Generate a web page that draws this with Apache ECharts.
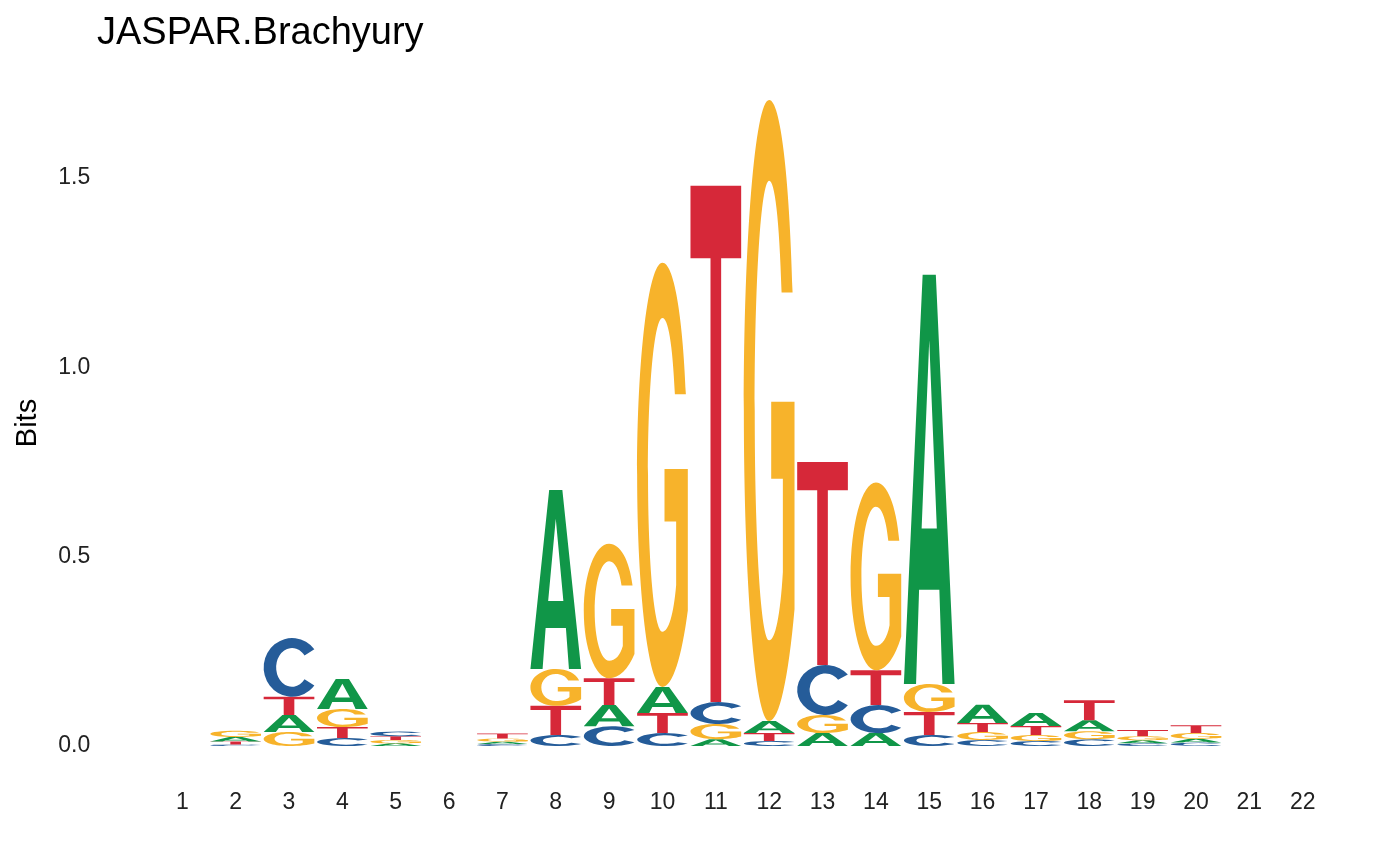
<!DOCTYPE html>
<html>
<head>
<meta charset="utf-8">
<script src="https://cdn.jsdelivr.net/npm/echarts@6/dist/echarts.min.js"></script>
<style>
html,body{margin:0;padding:0;background:#fff;}
#chart{width:1400px;height:866px;}
</style>
</head>
<body>
<div id="chart"></div>
<script>
// ---- data (bits per letter at each position) ----
const positions = [1,2,3,4,5,6,7,8,9,10,11,12,13,14,15,16,17,18,19,20,21,22];
const bitsA = [0,0.012,0.045,0.079,0.007,0,0.006,0.473,0.056,0.069,0.018,0.032,0.034,0.034,1.080,0.048,0.034,0.029,0.008,0.010,0,0];
const bitsC = [0,0.004,0.155,0.021,0.012,0,0.005,0.029,0.052,0.034,0.058,0.013,0.132,0.074,0.029,0.016,0.013,0.018,0.007,0.009,0,0];
const bitsG = [0,0.016,0.037,0.048,0.009,0,0.009,0.097,0.355,1.120,0.040,1.640,0.048,0.496,0.074,0.021,0.016,0.021,0.011,0.015,0,0];
const bitsT = [0,0.008,0.048,0.029,0.010,0,0.013,0.077,0.071,0.053,1.363,0.021,0.536,0.092,0.061,0.024,0.024,0.053,0.016,0.021,0,0];
const letters = ['A','C','G','T'];
const xTickLabels = [1,2,3,4,5,6,7,8,9,10,11,12,13,14,15,16,17,18,19,20,21,22];
const yTickLabels = [0, 0.5, 1.0, 1.5];
const titleText = 'JASPAR.Brachyury';
const yName = 'Bits';

// ---- styles ----
const COLORS = {A:'#109648', C:'#255C99', G:'#F7B32B', T:'#D62839'};
const PATHS = {
  A: 'M0 100 L37 0 L63 0 L100 100 L76 100 L70 77 L30 77 L24 100 Z M35 62 L65 62 L50 16 Z',
  C: 'M89.4 19.2 A50 50 0 1 0 89.4 80.8 L72.1 70.3 A28 33 0 1 1 72.1 29.7 Z',
  G: 'M96.2 31 C90 12 72 0 50 0 C22.4 0 0 22.4 0 50 C0 77.6 22.4 100 50 100 C70 100 88 93 100 82 ' +
     'L100 48.6 L54 48.6 L54 61 L77 61 L77 76 C72 83 62 87 50 87 C34 87 21.5 71 21.5 50 ' +
     'C21.5 29 34 13 50 13 C61 13 70 19 74.5 31 Z',
  T: 'M0 0 L100 0 L100 14 L60.5 14 L60.5 100 L39.5 100 L39.5 14 L0 14 Z'
};
const HALF = 0.475;
const FONT = '"Liberation Sans", Arial, Helvetica, sans-serif';

// ---- build stacked letter items ----
const table = {A: bitsA, C: bitsC, G: bitsG, T: bitsT};
const items = [];
positions.forEach((p, i) => {
  const col = letters.map((L, k) => ({L, k, h: table[L][i]})).filter(d => d.h > 0);
  col.sort((a, b) => a.h - b.h);
  let acc = 0;
  col.forEach(d => {
    items.push([p, acc, acc + d.h, d.k]);
    acc += d.h;
  });
});

const chart = echarts.init(document.getElementById('chart'), null, {renderer: 'canvas'});
chart.setOption({
  backgroundColor: '#fff',
  animation: false,
  title: {
    text: titleText, left: 97, top: 15, padding: 0,
    textStyle: {fontFamily: FONT, fontSize: 38, fontWeight: 'normal', color: '#000'}
  },
  grid: {left: 150.3, right: 65.3, top: 67.7, bottom: 87.7, containLabel: false},
  xAxis: {
    type: 'value', min: 0.4, max: 22.6,
    axisLine: {show: false}, axisTick: {show: false}, splitLine: {show: false},
    axisLabel: {
      customValues: xTickLabels, margin: 13,
      fontFamily: FONT, fontSize: 23, color: '#222',
      formatter: v => String(v)
    }
  },
  yAxis: {
    type: 'value', min: -0.0853, max: 1.791,
    axisLine: {show: false}, axisTick: {show: false}, splitLine: {show: false},
    axisLabel: {
      customValues: yTickLabels, margin: 60, padding: [6, 0, 0, 0],
      fontFamily: FONT, fontSize: 23, color: '#222',
      formatter: v => v.toFixed(1)
    }
  },
  graphic: [{
    type: 'text', x: 27.5, y: 423, rotation: Math.PI / 2,
    style: {text: yName, font: '29px ' + FONT, fill: '#000', align: 'center', verticalAlign: 'middle'}
  }],
  series: [{
    type: 'custom',
    coordinateSystem: 'cartesian2d',
    encode: {x: 0, y: [1, 2]},
    data: items,
    renderItem: function (params, api) {
      const x = api.value(0), y0 = api.value(1), y1 = api.value(2), k = api.value(3);
      const L = letters[k];
      const p0 = api.coord([x - HALF, y1]);
      const p1 = api.coord([x + HALF, y0]);
      return {
        type: 'path',
        shape: {pathData: PATHS[L], x: p0[0], y: p0[1], width: p1[0] - p0[0], height: p1[1] - p0[1], layout: 'cover'},
        style: {fill: COLORS[L]}
      };
    }
  }]
});
</script>
</body>
</html>
